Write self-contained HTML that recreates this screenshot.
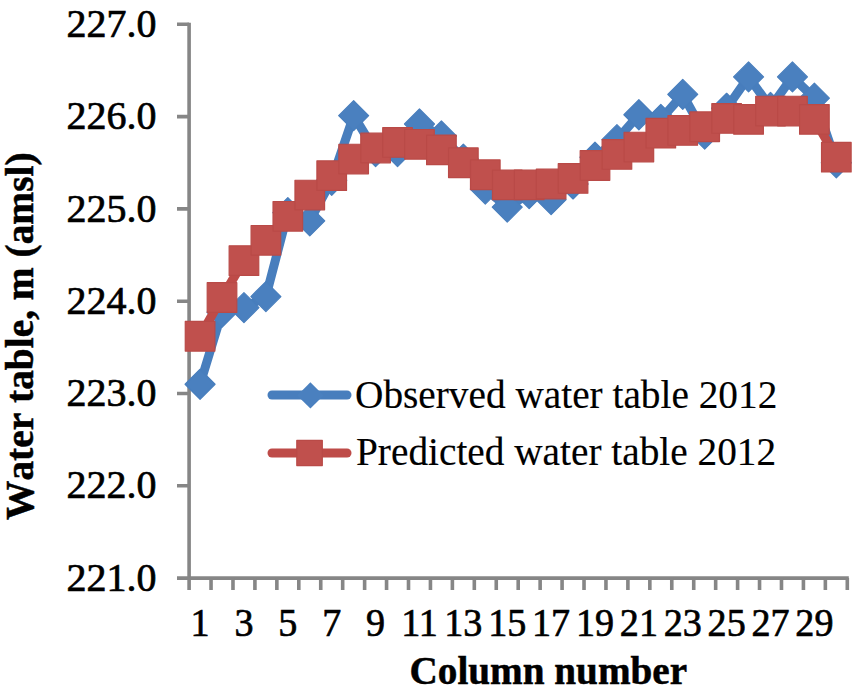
<!DOCTYPE html>
<html><head><meta charset="utf-8"><style>
html,body{margin:0;padding:0;background:#fff;width:854px;height:696px;overflow:hidden}
svg{display:block}
text{font-family:"Liberation Serif",serif;fill:#000;stroke:#000;stroke-width:0.5px}
.lab{font-size:41px;stroke-width:0.7px}
.leg{font-size:39.3px;stroke-width:0.15px}
.ttl{font-weight:bold}
.xt{font-size:39.2px}
.yt{font-size:39.4px;font-kerning:none}
</style></head><body>
<svg width="854" height="696" viewBox="0 0 854 696">
<rect width="854" height="696" fill="#fff"/>
<path d="M189.1,22.800000000000068 V578.1 H848.8000000000001" fill="none" stroke="#868686" stroke-width="3.6"/>
<path d="M177,578.10H189.10 M177,485.80H189.10 M177,393.50H189.10 M177,301.20H189.10 M177,208.90H189.10 M177,116.60H189.10 M177,24.30H189.10 M189.10,578.10V590 M211.04,578.10V590 M232.98,578.10V590 M254.92,578.10V590 M276.86,578.10V590 M298.80,578.10V590 M320.74,578.10V590 M342.68,578.10V590 M364.62,578.10V590 M386.56,578.10V590 M408.50,578.10V590 M430.44,578.10V590 M452.38,578.10V590 M474.32,578.10V590 M496.26,578.10V590 M518.20,578.10V590 M540.14,578.10V590 M562.08,578.10V590 M584.02,578.10V590 M605.96,578.10V590 M627.90,578.10V590 M649.84,578.10V590 M671.78,578.10V590 M693.72,578.10V590 M715.66,578.10V590 M737.60,578.10V590 M759.54,578.10V590 M781.48,578.10V590 M803.42,578.10V590 M825.36,578.10V590 M847.30,578.10V590" fill="none" stroke="#868686" stroke-width="3.6"/>
<text transform="translate(156.5,590.70) scale(0.975,1)" text-anchor="end" class="lab">221.0</text>
<text transform="translate(156.5,498.40) scale(0.975,1)" text-anchor="end" class="lab">222.0</text>
<text transform="translate(156.5,406.10) scale(0.975,1)" text-anchor="end" class="lab">223.0</text>
<text transform="translate(156.5,313.80) scale(0.975,1)" text-anchor="end" class="lab">224.0</text>
<text transform="translate(156.5,221.50) scale(0.975,1)" text-anchor="end" class="lab">225.0</text>
<text transform="translate(156.5,129.20) scale(0.975,1)" text-anchor="end" class="lab">226.0</text>
<text transform="translate(156.5,36.90) scale(0.975,1)" text-anchor="end" class="lab">227.0</text>
<text transform="translate(200.07,636) scale(0.93,1)" text-anchor="middle" class="lab">1</text>
<text transform="translate(243.95,636) scale(0.93,1)" text-anchor="middle" class="lab">3</text>
<text transform="translate(287.83,636) scale(0.93,1)" text-anchor="middle" class="lab">5</text>
<text transform="translate(331.71,636) scale(0.93,1)" text-anchor="middle" class="lab">7</text>
<text transform="translate(375.59,636) scale(0.93,1)" text-anchor="middle" class="lab">9</text>
<text transform="translate(419.47,636) scale(0.93,1)" text-anchor="middle" class="lab">11</text>
<text transform="translate(463.35,636) scale(0.93,1)" text-anchor="middle" class="lab">13</text>
<text transform="translate(507.23,636) scale(0.93,1)" text-anchor="middle" class="lab">15</text>
<text transform="translate(551.11,636) scale(0.93,1)" text-anchor="middle" class="lab">17</text>
<text transform="translate(594.99,636) scale(0.93,1)" text-anchor="middle" class="lab">19</text>
<text transform="translate(638.87,636) scale(0.93,1)" text-anchor="middle" class="lab">21</text>
<text transform="translate(682.75,636) scale(0.93,1)" text-anchor="middle" class="lab">23</text>
<text transform="translate(726.63,636) scale(0.93,1)" text-anchor="middle" class="lab">25</text>
<text transform="translate(770.51,636) scale(0.93,1)" text-anchor="middle" class="lab">27</text>
<text transform="translate(814.39,636) scale(0.93,1)" text-anchor="middle" class="lab">29</text>
<polyline points="200.07,384.27 222.01,312.28 243.95,307.66 265.89,296.58 287.83,212.59 309.77,220.90 331.71,180.29 353.65,115.68 375.59,151.67 397.53,151.67 419.47,123.98 441.41,135.98 463.35,159.06 485.29,189.06 507.23,207.05 529.17,193.67 551.11,199.67 573.05,183.98 594.99,157.21 616.93,139.68 638.87,114.75 660.81,119.37 682.75,94.45 704.69,134.14 726.63,108.29 748.57,76.91 770.51,107.37 792.45,76.91 814.39,98.14 836.33,162.75" fill="none" stroke="#487EBD" stroke-width="9" stroke-linejoin="round" stroke-linecap="round"/>
<path d="M200.07,369.27L215.07,384.27L200.07,399.27L185.07,384.27Z" fill="#4A80BF" stroke="#487EBD" stroke-width="1.2" stroke-linejoin="round"/>
<path d="M222.01,297.28L237.01,312.28L222.01,327.28L207.01,312.28Z" fill="#4A80BF" stroke="#487EBD" stroke-width="1.2" stroke-linejoin="round"/>
<path d="M243.95,292.66L258.95,307.66L243.95,322.66L228.95,307.66Z" fill="#4A80BF" stroke="#487EBD" stroke-width="1.2" stroke-linejoin="round"/>
<path d="M265.89,281.58L280.89,296.58L265.89,311.58L250.89,296.58Z" fill="#4A80BF" stroke="#487EBD" stroke-width="1.2" stroke-linejoin="round"/>
<path d="M287.83,197.59L302.83,212.59L287.83,227.59L272.83,212.59Z" fill="#4A80BF" stroke="#487EBD" stroke-width="1.2" stroke-linejoin="round"/>
<path d="M309.77,205.90L324.77,220.90L309.77,235.90L294.77,220.90Z" fill="#4A80BF" stroke="#487EBD" stroke-width="1.2" stroke-linejoin="round"/>
<path d="M331.71,165.29L346.71,180.29L331.71,195.29L316.71,180.29Z" fill="#4A80BF" stroke="#487EBD" stroke-width="1.2" stroke-linejoin="round"/>
<path d="M353.65,100.68L368.65,115.68L353.65,130.68L338.65,115.68Z" fill="#4A80BF" stroke="#487EBD" stroke-width="1.2" stroke-linejoin="round"/>
<path d="M375.59,136.67L390.59,151.67L375.59,166.67L360.59,151.67Z" fill="#4A80BF" stroke="#487EBD" stroke-width="1.2" stroke-linejoin="round"/>
<path d="M397.53,136.67L412.53,151.67L397.53,166.67L382.53,151.67Z" fill="#4A80BF" stroke="#487EBD" stroke-width="1.2" stroke-linejoin="round"/>
<path d="M419.47,108.98L434.47,123.98L419.47,138.98L404.47,123.98Z" fill="#4A80BF" stroke="#487EBD" stroke-width="1.2" stroke-linejoin="round"/>
<path d="M441.41,120.98L456.41,135.98L441.41,150.98L426.41,135.98Z" fill="#4A80BF" stroke="#487EBD" stroke-width="1.2" stroke-linejoin="round"/>
<path d="M463.35,144.06L478.35,159.06L463.35,174.06L448.35,159.06Z" fill="#4A80BF" stroke="#487EBD" stroke-width="1.2" stroke-linejoin="round"/>
<path d="M485.29,174.06L500.29,189.06L485.29,204.06L470.29,189.06Z" fill="#4A80BF" stroke="#487EBD" stroke-width="1.2" stroke-linejoin="round"/>
<path d="M507.23,192.05L522.23,207.05L507.23,222.05L492.23,207.05Z" fill="#4A80BF" stroke="#487EBD" stroke-width="1.2" stroke-linejoin="round"/>
<path d="M529.17,178.67L544.17,193.67L529.17,208.67L514.17,193.67Z" fill="#4A80BF" stroke="#487EBD" stroke-width="1.2" stroke-linejoin="round"/>
<path d="M551.11,184.67L566.11,199.67L551.11,214.67L536.11,199.67Z" fill="#4A80BF" stroke="#487EBD" stroke-width="1.2" stroke-linejoin="round"/>
<path d="M573.05,168.98L588.05,183.98L573.05,198.98L558.05,183.98Z" fill="#4A80BF" stroke="#487EBD" stroke-width="1.2" stroke-linejoin="round"/>
<path d="M594.99,142.21L609.99,157.21L594.99,172.21L579.99,157.21Z" fill="#4A80BF" stroke="#487EBD" stroke-width="1.2" stroke-linejoin="round"/>
<path d="M616.93,124.68L631.93,139.68L616.93,154.68L601.93,139.68Z" fill="#4A80BF" stroke="#487EBD" stroke-width="1.2" stroke-linejoin="round"/>
<path d="M638.87,99.75L653.87,114.75L638.87,129.75L623.87,114.75Z" fill="#4A80BF" stroke="#487EBD" stroke-width="1.2" stroke-linejoin="round"/>
<path d="M660.81,104.37L675.81,119.37L660.81,134.37L645.81,119.37Z" fill="#4A80BF" stroke="#487EBD" stroke-width="1.2" stroke-linejoin="round"/>
<path d="M682.75,79.45L697.75,94.45L682.75,109.45L667.75,94.45Z" fill="#4A80BF" stroke="#487EBD" stroke-width="1.2" stroke-linejoin="round"/>
<path d="M704.69,119.14L719.69,134.14L704.69,149.14L689.69,134.14Z" fill="#4A80BF" stroke="#487EBD" stroke-width="1.2" stroke-linejoin="round"/>
<path d="M726.63,93.29L741.63,108.29L726.63,123.29L711.63,108.29Z" fill="#4A80BF" stroke="#487EBD" stroke-width="1.2" stroke-linejoin="round"/>
<path d="M748.57,61.91L763.57,76.91L748.57,91.91L733.57,76.91Z" fill="#4A80BF" stroke="#487EBD" stroke-width="1.2" stroke-linejoin="round"/>
<path d="M770.51,92.37L785.51,107.37L770.51,122.37L755.51,107.37Z" fill="#4A80BF" stroke="#487EBD" stroke-width="1.2" stroke-linejoin="round"/>
<path d="M792.45,61.91L807.45,76.91L792.45,91.91L777.45,76.91Z" fill="#4A80BF" stroke="#487EBD" stroke-width="1.2" stroke-linejoin="round"/>
<path d="M814.39,83.14L829.39,98.14L814.39,113.14L799.39,98.14Z" fill="#4A80BF" stroke="#487EBD" stroke-width="1.2" stroke-linejoin="round"/>
<path d="M836.33,147.75L851.33,162.75L836.33,177.75L821.33,162.75Z" fill="#4A80BF" stroke="#487EBD" stroke-width="1.2" stroke-linejoin="round"/>
<polyline points="200.07,336.27 222.01,297.51 243.95,260.59 265.89,240.28 287.83,216.28 309.77,195.05 331.71,175.67 353.65,159.06 375.59,147.98 397.53,142.44 419.47,144.29 441.41,149.83 463.35,162.75 485.29,174.75 507.23,184.90 529.17,184.90 551.11,183.98 573.05,178.44 594.99,165.52 616.93,154.44 638.87,147.06 660.81,133.21 682.75,130.45 704.69,126.75 726.63,118.45 748.57,119.37 770.51,111.06 792.45,111.06 814.39,119.37 836.33,157.21" fill="none" stroke="#BE4B48" stroke-width="9" stroke-linejoin="round" stroke-linecap="round"/>
<rect x="185.27" y="321.47" width="29.60" height="29.60" fill="#C0504D" stroke="#B94A47" stroke-width="1.2" stroke-linejoin="round"/>
<rect x="207.21" y="282.71" width="29.60" height="29.60" fill="#C0504D" stroke="#B94A47" stroke-width="1.2" stroke-linejoin="round"/>
<rect x="229.15" y="245.79" width="29.60" height="29.60" fill="#C0504D" stroke="#B94A47" stroke-width="1.2" stroke-linejoin="round"/>
<rect x="251.09" y="225.48" width="29.60" height="29.60" fill="#C0504D" stroke="#B94A47" stroke-width="1.2" stroke-linejoin="round"/>
<rect x="273.03" y="201.48" width="29.60" height="29.60" fill="#C0504D" stroke="#B94A47" stroke-width="1.2" stroke-linejoin="round"/>
<rect x="294.97" y="180.25" width="29.60" height="29.60" fill="#C0504D" stroke="#B94A47" stroke-width="1.2" stroke-linejoin="round"/>
<rect x="316.91" y="160.87" width="29.60" height="29.60" fill="#C0504D" stroke="#B94A47" stroke-width="1.2" stroke-linejoin="round"/>
<rect x="338.85" y="144.26" width="29.60" height="29.60" fill="#C0504D" stroke="#B94A47" stroke-width="1.2" stroke-linejoin="round"/>
<rect x="360.79" y="133.18" width="29.60" height="29.60" fill="#C0504D" stroke="#B94A47" stroke-width="1.2" stroke-linejoin="round"/>
<rect x="382.73" y="127.64" width="29.60" height="29.60" fill="#C0504D" stroke="#B94A47" stroke-width="1.2" stroke-linejoin="round"/>
<rect x="404.67" y="129.49" width="29.60" height="29.60" fill="#C0504D" stroke="#B94A47" stroke-width="1.2" stroke-linejoin="round"/>
<rect x="426.61" y="135.03" width="29.60" height="29.60" fill="#C0504D" stroke="#B94A47" stroke-width="1.2" stroke-linejoin="round"/>
<rect x="448.55" y="147.95" width="29.60" height="29.60" fill="#C0504D" stroke="#B94A47" stroke-width="1.2" stroke-linejoin="round"/>
<rect x="470.49" y="159.95" width="29.60" height="29.60" fill="#C0504D" stroke="#B94A47" stroke-width="1.2" stroke-linejoin="round"/>
<rect x="492.43" y="170.10" width="29.60" height="29.60" fill="#C0504D" stroke="#B94A47" stroke-width="1.2" stroke-linejoin="round"/>
<rect x="514.37" y="170.10" width="29.60" height="29.60" fill="#C0504D" stroke="#B94A47" stroke-width="1.2" stroke-linejoin="round"/>
<rect x="536.31" y="169.18" width="29.60" height="29.60" fill="#C0504D" stroke="#B94A47" stroke-width="1.2" stroke-linejoin="round"/>
<rect x="558.25" y="163.64" width="29.60" height="29.60" fill="#C0504D" stroke="#B94A47" stroke-width="1.2" stroke-linejoin="round"/>
<rect x="580.19" y="150.72" width="29.60" height="29.60" fill="#C0504D" stroke="#B94A47" stroke-width="1.2" stroke-linejoin="round"/>
<rect x="602.13" y="139.64" width="29.60" height="29.60" fill="#C0504D" stroke="#B94A47" stroke-width="1.2" stroke-linejoin="round"/>
<rect x="624.07" y="132.26" width="29.60" height="29.60" fill="#C0504D" stroke="#B94A47" stroke-width="1.2" stroke-linejoin="round"/>
<rect x="646.01" y="118.41" width="29.60" height="29.60" fill="#C0504D" stroke="#B94A47" stroke-width="1.2" stroke-linejoin="round"/>
<rect x="667.95" y="115.65" width="29.60" height="29.60" fill="#C0504D" stroke="#B94A47" stroke-width="1.2" stroke-linejoin="round"/>
<rect x="689.89" y="111.95" width="29.60" height="29.60" fill="#C0504D" stroke="#B94A47" stroke-width="1.2" stroke-linejoin="round"/>
<rect x="711.83" y="103.65" width="29.60" height="29.60" fill="#C0504D" stroke="#B94A47" stroke-width="1.2" stroke-linejoin="round"/>
<rect x="733.77" y="104.57" width="29.60" height="29.60" fill="#C0504D" stroke="#B94A47" stroke-width="1.2" stroke-linejoin="round"/>
<rect x="755.71" y="96.26" width="29.60" height="29.60" fill="#C0504D" stroke="#B94A47" stroke-width="1.2" stroke-linejoin="round"/>
<rect x="777.65" y="96.26" width="29.60" height="29.60" fill="#C0504D" stroke="#B94A47" stroke-width="1.2" stroke-linejoin="round"/>
<rect x="799.59" y="104.57" width="29.60" height="29.60" fill="#C0504D" stroke="#B94A47" stroke-width="1.2" stroke-linejoin="round"/>
<rect x="821.53" y="142.41" width="29.60" height="29.60" fill="#C0504D" stroke="#B94A47" stroke-width="1.2" stroke-linejoin="round"/>
<line x1="272" y1="395" x2="347" y2="395" stroke="#487EBD" stroke-width="9" stroke-linecap="round"/>
<path d="M310.4,382.2L323.59999999999997,395.4L310.4,408.59999999999997L297.2,395.4Z" fill="#4A80BF"/>
<line x1="272" y1="453" x2="347" y2="453" stroke="#BE4B48" stroke-width="9" stroke-linecap="round"/>
<rect x="296.8" y="440.3" width="25.5" height="25.3" fill="#C0504D" stroke="#B94A47" stroke-width="1.2" stroke-linejoin="round"/>
<text x="355" y="408" class="leg">Observed water table 2012</text>
<text x="356" y="465" class="leg">Predicted water table 2012</text>
<text x="409.5" y="684.3" class="ttl xt">Column number</text>
<text transform="translate(33.2,520) rotate(-90)" x="0" y="0" class="ttl yt">Water table, m (amsl)</text>
</svg>
</body></html>
